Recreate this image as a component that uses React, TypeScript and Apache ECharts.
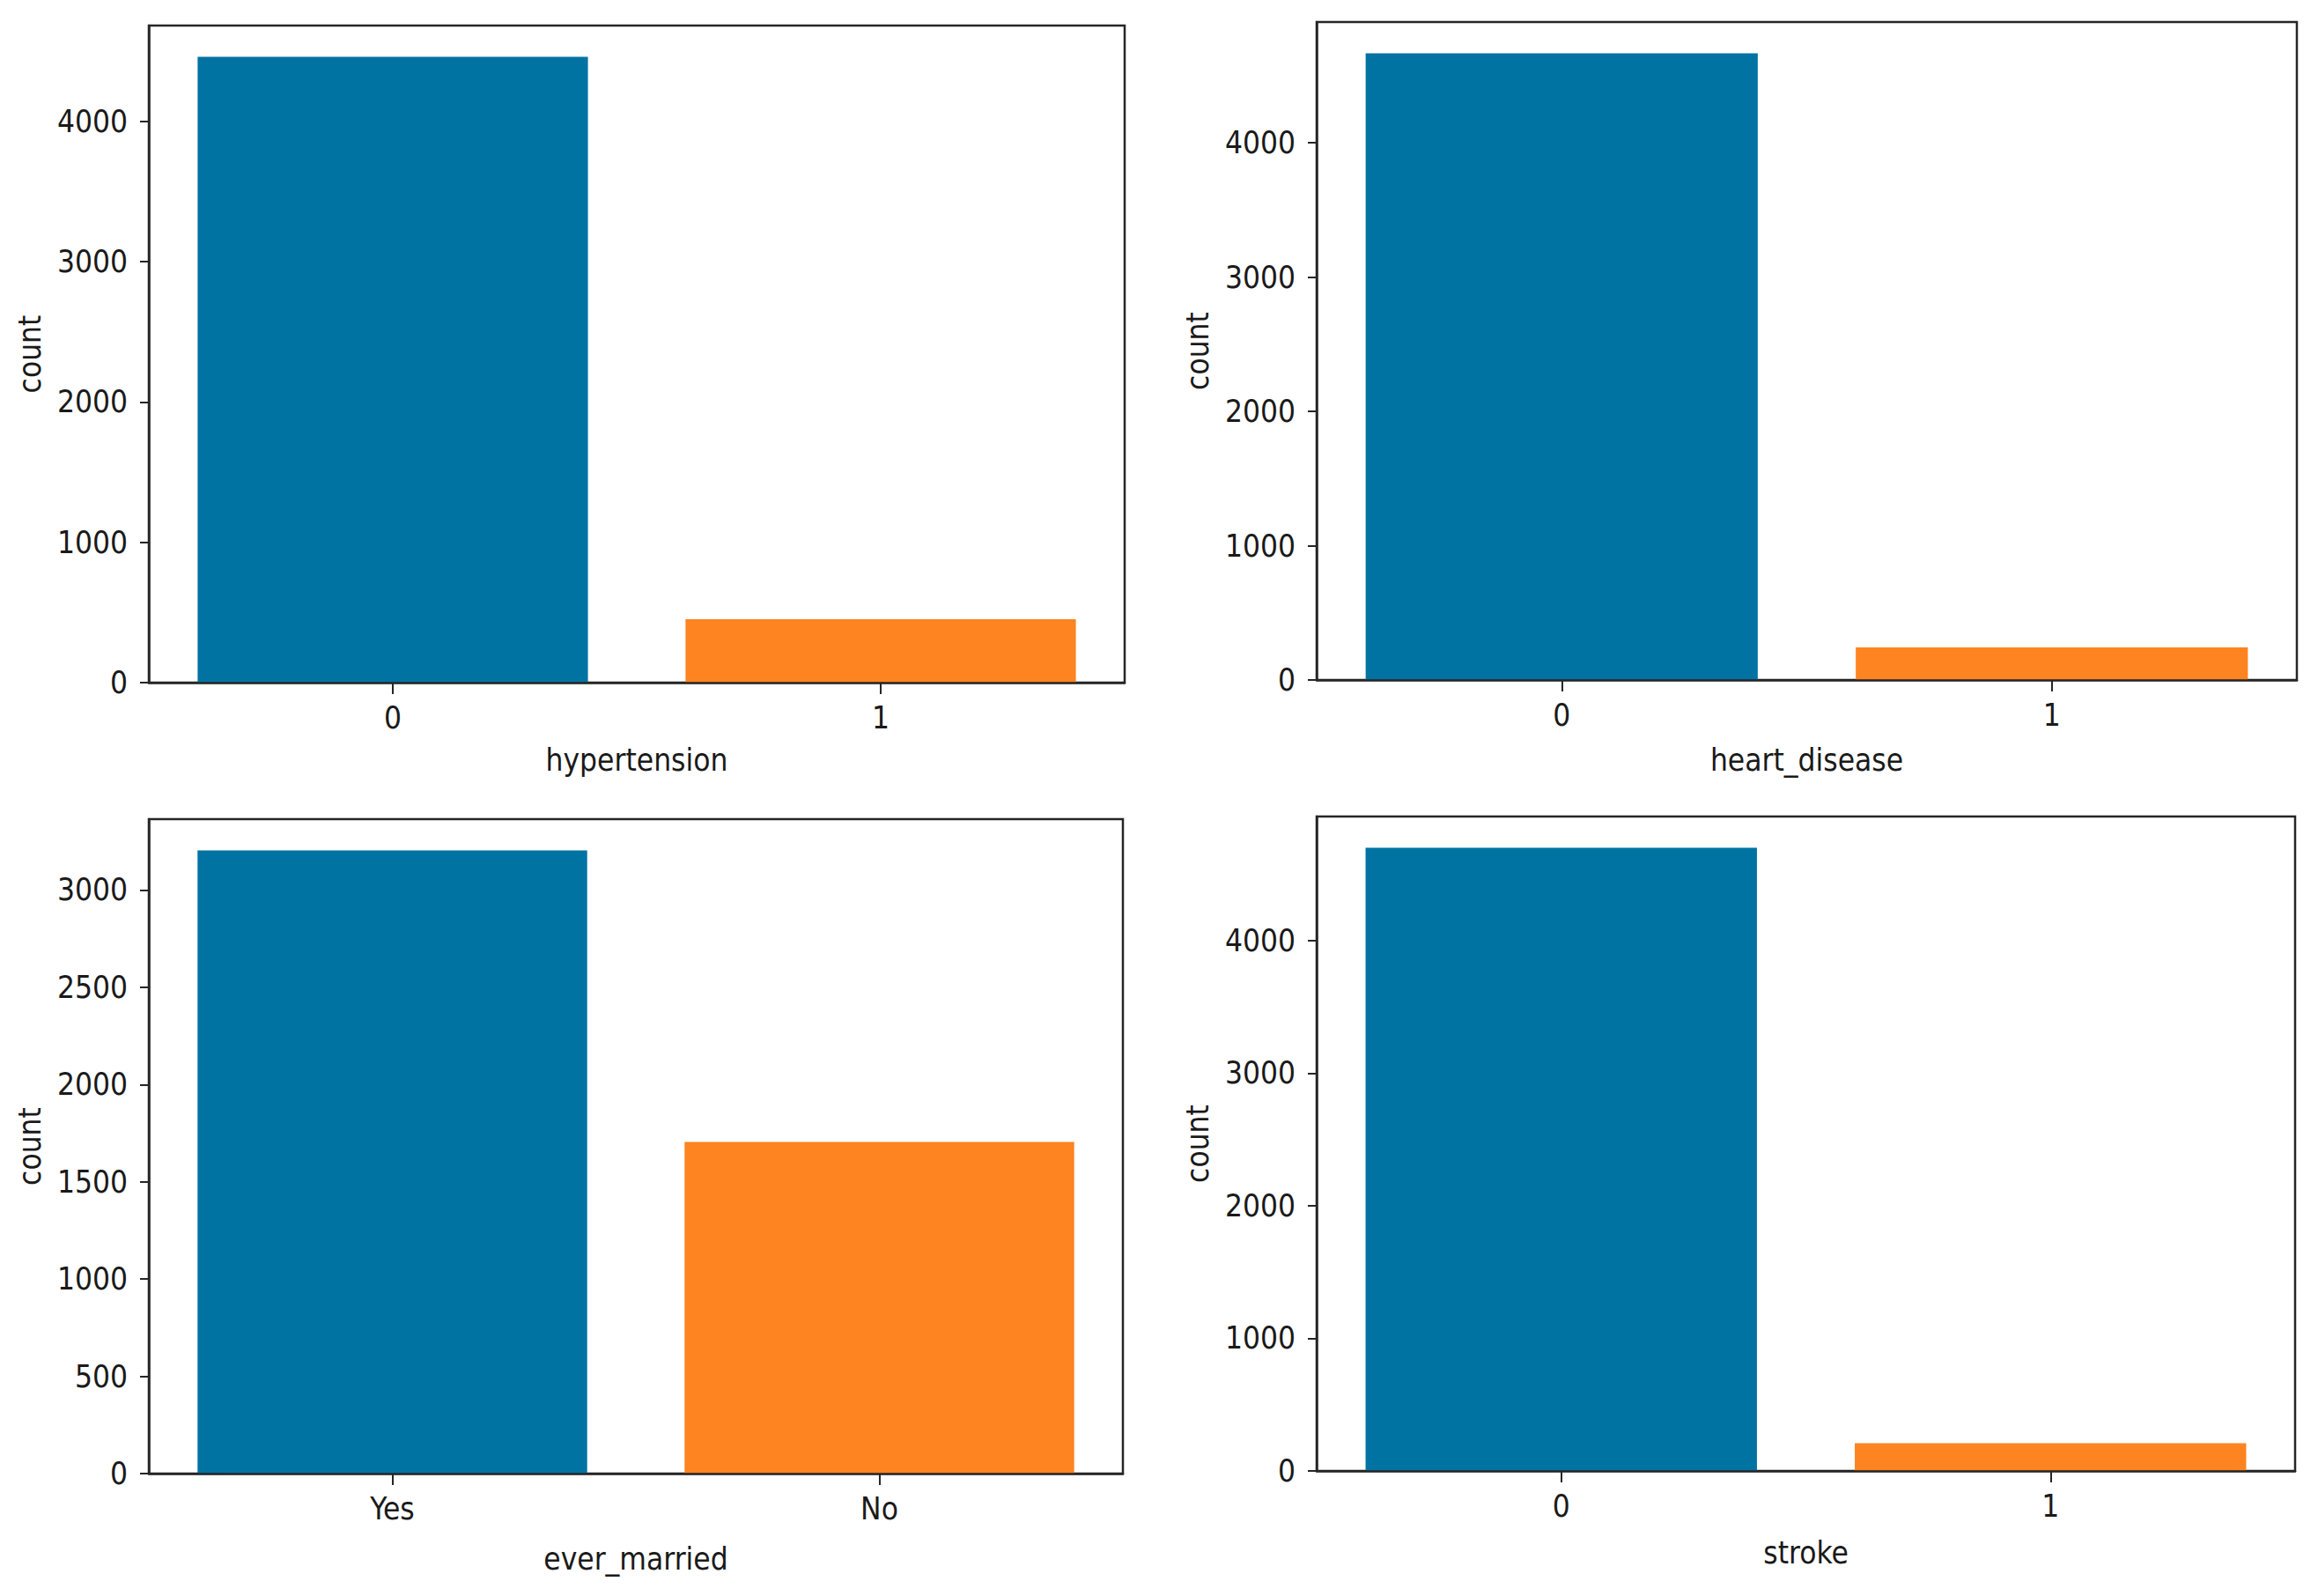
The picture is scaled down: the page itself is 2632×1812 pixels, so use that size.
import React, { useEffect, useRef } from "react";
import * as echarts from "echarts";

// ---- data ----
const HYPERTENSION_CATEGORIES = ["0", "1"];
const HYPERTENSION_COUNTS = [4458, 451];
const HEART_DISEASE_CATEGORIES = ["0", "1"];
const HEART_DISEASE_COUNTS = [4666, 243];
const EVER_MARRIED_CATEGORIES = ["Yes", "No"];
const EVER_MARRIED_COUNTS = [3204, 1705];
const STROKE_CATEGORIES = ["0", "1"];
const STROKE_COUNTS = [4700, 209];
const TICKS_BY_1000 = [0, 1000, 2000, 3000, 4000];
const TICKS_BY_500 = [0, 500, 1000, 1500, 2000, 2500, 3000];

const PANELS = [
  { name: "hypertension", cats: HYPERTENSION_CATEGORIES, vals: HYPERTENSION_COUNTS, ticks: TICKS_BY_1000, step: 1000 },
  { name: "heart_disease", cats: HEART_DISEASE_CATEGORIES, vals: HEART_DISEASE_COUNTS, ticks: TICKS_BY_1000, step: 1000 },
  { name: "ever_married", cats: EVER_MARRIED_CATEGORIES, vals: EVER_MARRIED_COUNTS, ticks: TICKS_BY_500, step: 500 },
  { name: "stroke", cats: STROKE_CATEGORIES, vals: STROKE_COUNTS, ticks: TICKS_BY_1000, step: 1000 },
];

// ---- layout / style ----
const GRIDS = [
  { left: 169, top: 29, width: 1108, height: 746, xNameGap: 70 },
  { left: 1495, top: 25, width: 1113, height: 747, xNameGap: 73 },
  { left: 169, top: 930, width: 1106, height: 743, xNameGap: 79 },
  { left: 1495, top: 927, width: 1111, height: 743, xNameGap: 75 },
];
const BAR_COLORS = ["#0173a3", "#fd8420"];
const FONT = "'DejaVu Sans Condensed', 'DejaVu Sans', sans-serif";
const FONT_SIZE = 35;
const INK = "#1a1a1a";
const SPINE = "#262626";
const SPINE_W = 2.5;

export default function App() {
  const ref = useRef<HTMLDivElement>(null);

  useEffect(() => {
    if (!ref.current) return;
    const chart = echarts.init(ref.current, undefined, { renderer: "svg" });

    const grid = GRIDS.map((g) => ({
      left: g.left,
      top: g.top,
      width: g.width,
      height: g.height,
      show: true,
      borderColor: SPINE,
      borderWidth: SPINE_W,
      backgroundColor: "transparent",
      containLabel: false,
    }));

    const xAxis = PANELS.map((p, i) => ({
      type: "category",
      gridIndex: i,
      data: p.cats,
      boundaryGap: true,
      z: 5,
      name: p.name,
      nameLocation: "middle",
      nameGap: GRIDS[i].xNameGap,
      nameTextStyle: { fontFamily: FONT, fontSize: FONT_SIZE, color: INK },
      axisLine: { show: true, lineStyle: { color: SPINE, width: SPINE_W } },
      axisTick: { show: true, alignWithLabel: true, length: 13, lineStyle: { color: SPINE, width: 2 } },
      axisLabel: { fontFamily: FONT, fontSize: FONT_SIZE, color: INK, margin: 22 },
      splitLine: { show: false },
    }));

    const yAxis = PANELS.map((p, i) => ({
      type: "value",
      gridIndex: i,
      min: 0,
      max: Math.max(...p.vals) * 1.05,
      interval: p.step,
      z: 5,
      name: "count",
      nameLocation: "middle",
      nameGap: 118,
      nameRotate: 90,
      nameTextStyle: { fontFamily: FONT, fontSize: FONT_SIZE, color: INK },
      axisLine: { show: true, lineStyle: { color: SPINE, width: SPINE_W } },
      axisTick: { show: true, length: 10, customValues: p.ticks, lineStyle: { color: SPINE, width: 2 } },
      axisLabel: {
        fontFamily: FONT,
        fontSize: FONT_SIZE,
        color: INK,
        margin: 24,
        customValues: p.ticks,
        formatter: (v: number) => String(Math.round(v)),
      },
      splitLine: { show: false },
    }));

    const series = PANELS.map((p, i) => ({
      type: "bar",
      xAxisIndex: i,
      yAxisIndex: i,
      barWidth: "80%",
      data: p.vals.map((v, j) => ({ value: v, itemStyle: { color: BAR_COLORS[j % BAR_COLORS.length] } })),
    }));

    chart.setOption({
      animation: false,
      backgroundColor: "#ffffff",
      grid,
      xAxis,
      yAxis,
      series,
    });

    return () => chart.dispose();
  }, []);

  return (
    <div
      ref={ref}
      style={{ position: "absolute", left: 0, top: 0, width: 2632, height: 1812, background: "#fff" }}
    />
  );
}
